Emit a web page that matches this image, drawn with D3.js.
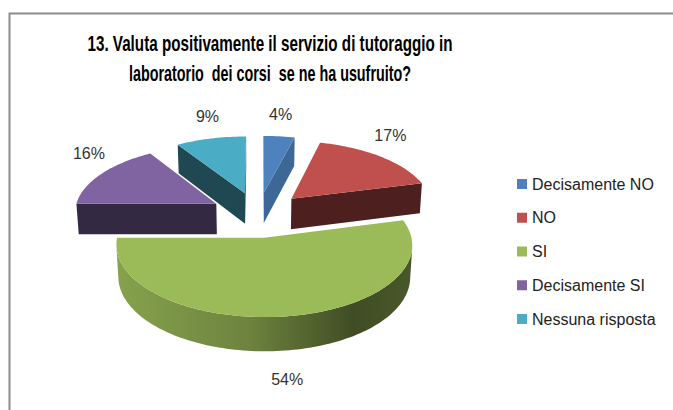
<!DOCTYPE html>
<html><head><meta charset="utf-8">
<script src="https://cdn.jsdelivr.net/npm/d3@7"></script>
<style>body{margin:0;background:#fff;} svg{display:block;}</style>
</head><body>
<svg id="chart" width="673" height="410"></svg>
<script>
// ---- data ----
const categories = ["Decisamente NO", "NO", "SI", "Decisamente SI", "Nessuna risposta"];
const values = [4, 17, 54, 16, 9];
const valueLabels = ["4%", "17%", "54%", "16%", "9%"];
const titleLines = ["13. Valuta positivamente il servizio di tutoraggio in", "laboratorio  dei corsi  se ne ha usufruito?"];

// ---- styles ----
const topColors = ["#4F81BD", "#C0504D", "#9BBB59", "#8064A2", "#4BACC6"];
const cutColors = ["#3C6797", "#4E1F1F", "#55702F", "#342943", "#1F4853"];
const FONT = "'Liberation Sans', Arial, sans-serif";

const svg = d3.select("#chart");
svg.append("rect").attr("width", 673).attr("height", 410).attr("fill", "#fff");
svg.append("path").attr("d", "M9.5,410 V13.5 H673")
  .attr("fill", "none").attr("stroke", "#8c8c8c").attr("stroke-width", 2);

// ---- title ----
const titleWidths = [365, 282];
svg.append("g").selectAll("text").data(titleLines).join("text")
  .attr("x", 270).attr("y", (d, i) => 51 + i * 30)
  .attr("text-anchor", "middle")
  .attr("font-family", FONT).attr("font-weight", "bold").attr("font-size", 21.5)
  .attr("fill", "#000").attr("xml:space", "preserve").style("white-space", "pre")
  .attr("textLength", (d, i) => titleWidths[i]).attr("lengthAdjust", "spacingAndGlyphs")
  .text(d => d);

// ---- 3D projection ----
const cam = { cx: 258, cy: 214.4, f: 1257, D: 8.84, phi: 27.9 * Math.PI / 180 };
const thick = 0.25, explode = 0.34;
const sP = Math.sin(cam.phi), cP = Math.cos(cam.phi);
function project(X, Y, Z) {
  const depth = cam.D - Y * sP + Z * cP;
  const sy = Y * cP + Z * sP;
  return [cam.cx + cam.f * X / depth, cam.cy - cam.f * sy / depth];
}
function area(poly) {
  let a = 0;
  for (let i = 0; i < poly.length; i++) {
    const p = poly[i], q = poly[(i + 1) % poly.length];
    a += p[0] * q[1] - q[0] * p[1];
  }
  return a / 2;
}
const line = d3.line().curve(d3.curveLinearClosed);

const arcs = d3.pie().sort(null).value(d => d)(values);
const slices = arcs.map((a, i) => {
  const mid = (a.startAngle + a.endAngle) / 2;
  const ox = explode * Math.sin(mid), oz = explode * Math.cos(mid);
  const n = Math.max(2, Math.ceil((a.endAngle - a.startAngle) / (Math.PI / 120)));
  const angs = d3.range(n + 1).map(k => a.startAngle + (a.endAngle - a.startAngle) * k / n);
  const rimT = angs.map(t => project(ox + Math.sin(t), 0, oz + Math.cos(t)));
  const rimB = angs.map(t => project(ox + Math.sin(t), -thick, oz + Math.cos(t)));
  const cT = project(ox, 0, oz), cB = project(ox, -thick, oz);
  return { i, mid, ox, oz, angs, rimT, rimB, cT, cB, depth: oz };
});

const gPie = svg.append("g");
const defs = svg.append("defs");
slices.slice().sort((a, b) => b.depth - a.depth).forEach(s => {
  const g = gPie.append("g");
  const col = d3.color(topColors[s.i]);
  const cut0 = [s.rimT[0], s.cT, s.cB, s.rimB[0]];
  const L = s.rimT.length - 1;
  const cut1 = [s.cT, s.rimT[L], s.rimB[L], s.cB];
  [cut0, cut1].forEach(poly => {
    if (area(poly) > 0) g.append("path").attr("d", line(poly)).attr("fill", cutColors[s.i]);
  });
  const vis = d3.range(L).map(k => area([s.rimT[k + 1], s.rimT[k], s.rimB[k], s.rimB[k + 1]]) > 0);
  let k = 0;
  while (k < L) {
    if (!vis[k]) { k++; continue; }
    let e = k;
    while (e < L && vis[e]) e++;
    const top = s.rimT.slice(k, e + 1), bot = s.rimB.slice(k, e + 1).reverse();
    const poly = top.concat(bot);
    const xs = poly.map(p => p[0]);
    const gid = "side" + s.i + "_" + k;
    const grad = defs.append("linearGradient").attr("id", gid)
      .attr("gradientUnits", "userSpaceOnUse")
      .attr("x1", d3.min(xs)).attr("x2", d3.max(xs)).attr("y1", 0).attr("y2", 0);
    [[0, 0.4], [0.45, 1.0], [0.8, 2.5], [1, 2.1]].forEach(([o, dk]) =>
      grad.append("stop").attr("offset", o).attr("stop-color", col.darker(dk).formatHex()));
    g.append("path").attr("d", line(poly)).attr("fill", `url(#${gid})`);
    k = e;
  }
  g.append("path").attr("d", line([s.cT].concat(s.rimT))).attr("fill", topColors[s.i]);
});

// ---- value labels ----
const lr = 1.1, lh = 0.15;
svg.append("g").selectAll("text").data(slices).join("text")
  .each(function (s) {
    const back = Math.cos(s.mid) > 0;
    const X = s.ox + lr * Math.sin(s.mid), Z = s.oz + lr * Math.cos(s.mid);
    const p = project(X, back ? lh : -(thick + lh), Z);
    d3.select(this).attr("x", p[0]).attr("y", p[1]);
  })
  .attr("text-anchor", "middle").attr("dominant-baseline", "central")
  .attr("font-family", FONT).attr("font-size", 16).attr("fill", "#333")
  .text(s => valueLabels[s.i]);

// ---- legend ----
const ly = d3.scalePoint().domain(categories).range([184, 319]);
const leg = svg.append("g").selectAll("g").data(categories).join("g")
  .attr("transform", d => `translate(517,${ly(d)})`);
leg.append("rect").attr("x", 0).attr("y", -5).attr("width", 10).attr("height", 10)
  .attr("fill", (d, i) => topColors[i]);
leg.append("text").attr("x", 15).attr("y", 0).attr("dominant-baseline", "central")
  .attr("font-family", FONT).attr("font-size", 16).attr("fill", "#222")
  .text(d => d);
</script>
</body></html>
